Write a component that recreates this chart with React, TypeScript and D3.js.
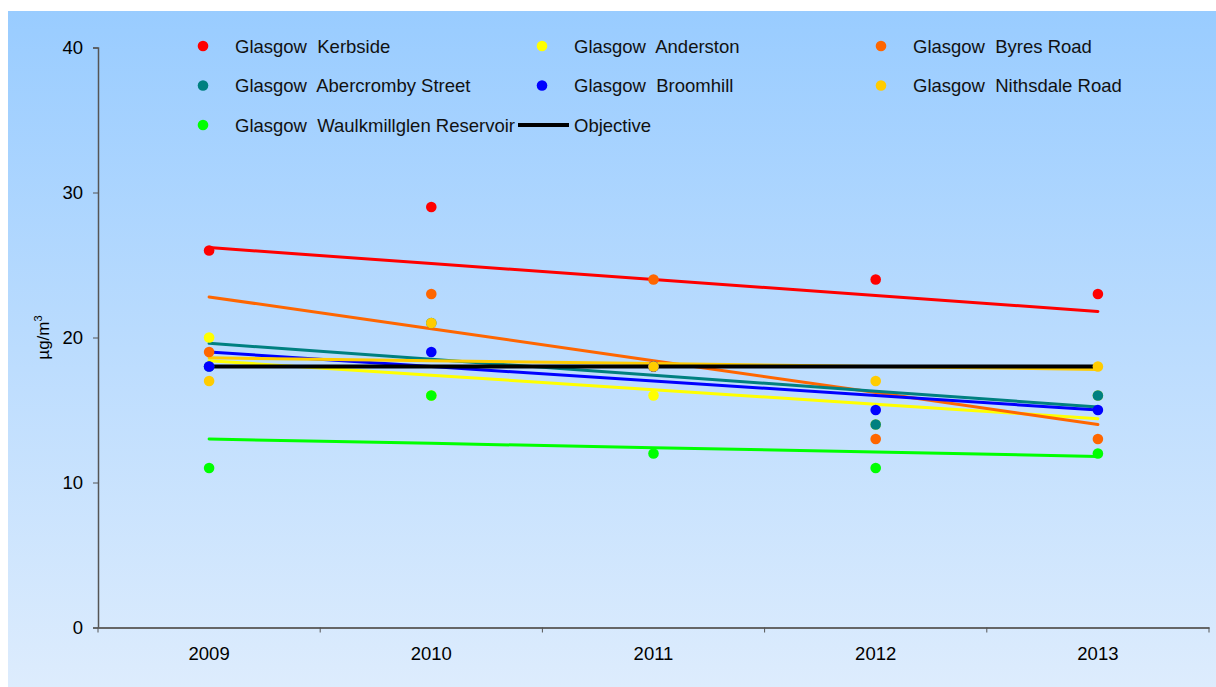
import React, { useEffect, useRef } from "react";
import * as d3 from "d3";

const years = ["2009", "2010", "2011", "2012", "2013"];

const kerbside = [26, 29, 18, 24, 23];
const anderston = [20, 16, 16, 14, 16];
const byresRoad = [19, 23, 24, 13, 13];
const abercromby = [18, 21, 18, 14, 16];
const broomhill = [18, 19, 18, 15, 15];
const nithsdale = [17, 21, 18, 17, 18];
const waulkmillglen = [11, 16, 12, 11, 12];
const objective = [18, 18, 18, 18, 18];

const yTicks = [0, 10, 20, 30, 40];

const sites = [
  { name: "Glasgow  Kerbside", color: "#ff0000", values: kerbside },
  { name: "Glasgow  Anderston", color: "#ffff00", values: anderston },
  { name: "Glasgow  Byres Road", color: "#ff6600", values: byresRoad },
  { name: "Glasgow  Abercromby Street", color: "#008080", values: abercromby },
  { name: "Glasgow  Broomhill", color: "#0000ff", values: broomhill },
  { name: "Glasgow  Nithsdale Road", color: "#ffcc00", values: nithsdale },
  { name: "Glasgow  Waulkmillglen Reservoir", color: "#00ff00", values: waulkmillglen },
];

// least squares trendline like Excel's linear trendline
const trend = (vals: number[]) => {
  const xs = vals.map((_, i) => i);
  const mx = d3.mean(xs) as number;
  const my = d3.mean(vals) as number;
  const slope =
    d3.sum(xs, (x, i) => (x - mx) * (vals[i] - my)) /
    d3.sum(xs, (x) => (x - mx) * (x - mx));
  return xs.map((x) => my + slope * (x - mx));
};

const App = () => {
  const ref = useRef<SVGSVGElement>(null);

  useEffect(() => {
    const svg = d3.select(ref.current);
    svg.selectAll("*").remove();

    const W = 1216;
    const H = 687;
    const left = 98;
    const right = 1209;
    const top = 47.5;
    const bottom = 627.5;
    const font = "Liberation Sans, Arial, sans-serif";

    const defs = svg.append("defs");
    const grad = defs
      .append("linearGradient")
      .attr("id", "bg")
      .attr("x1", 0)
      .attr("y1", 0)
      .attr("x2", 0)
      .attr("y2", 1);
    grad.append("stop").attr("offset", "0%").attr("stop-color", "#99ccff");
    grad.append("stop").attr("offset", "100%").attr("stop-color", "#ddecfd");

    svg
      .append("rect")
      .attr("x", 8)
      .attr("y", 11)
      .attr("width", W - 8)
      .attr("height", H - 11)
      .attr("fill", "url(#bg)");

    const x = d3.scaleBand().domain(years).range([left, right]);
    const y = d3.scaleLinear().domain([0, 40]).range([bottom, top]);
    const cx = (i: number) => (x(years[i]) as number) + x.bandwidth() / 2;

    // y axis
    const yAxis = svg
      .append("g")
      .attr("transform", `translate(${left},0)`)
      .call(d3.axisLeft(y).tickValues(yTicks).tickSize(5).tickPadding(10));
    yAxis.select(".domain").attr("stroke", "#555").attr("stroke-width", 1.5);
    yAxis.selectAll(".tick line").attr("stroke", "#555");
    yAxis
      .selectAll(".tick text")
      .attr("font-family", font)
      .attr("font-size", 18.5)
      .attr("fill", "#000");

    // x axis
    const xAxis = svg
      .append("g")
      .attr("transform", `translate(0,${bottom})`)
      .call(d3.axisBottom(x).tickSize(0).tickPadding(19));
    xAxis.select(".domain").attr("stroke", "#666").attr("stroke-width", 2);
    xAxis
      .selectAll(".tick text")
      .attr("font-family", font)
      .attr("font-size", 18.5)
      .attr("fill", "#000");
    svg
      .append("g")
      .selectAll("line")
      .data(d3.range(years.length + 1))
      .join("line")
      .attr("x1", (i) => left + i * x.bandwidth())
      .attr("x2", (i) => left + i * x.bandwidth())
      .attr("y1", bottom)
      .attr("y2", bottom + 5)
      .attr("stroke", "#555");

    // y label
    const yl = svg
      .append("text")
      .attr("transform", `translate(49,${(top + bottom) / 2}) rotate(-90)`)
      .attr("text-anchor", "middle")
      .attr("font-family", font)
      .attr("font-size", 17)
      .text("µg/m");
    yl.append("tspan").attr("dy", -7).attr("font-size", 11).text("3");

    // trend lines
    const line = d3
      .line<number>()
      .x((_, i) => cx(i))
      .y((d) => y(d));

    sites.forEach((s) => {
      svg
        .append("path")
        .attr("d", line(trend(s.values)))
        .attr("fill", "none")
        .attr("stroke", s.color)
        .attr("stroke-width", 3)
        .attr("stroke-linecap", "round");
    });

    svg
      .append("path")
      .attr("d", line(objective))
      .attr("fill", "none")
      .attr("stroke", "#000")
      .attr("stroke-width", 4);

    // points
    sites.forEach((s) => {
      svg
        .append("g")
        .selectAll("circle")
        .data(s.values)
        .join("circle")
        .attr("cx", (_, i) => cx(i))
        .attr("cy", (d) => y(d))
        .attr("r", 5.3)
        .attr("fill", s.color);
    });

    // legend
    const legend = svg.append("g");
    const items = [...sites.map((s) => ({ ...s, kind: "dot" })), { name: "Objective", color: "#000", kind: "line" }];
    items.forEach((it, i) => {
      const col = i % 3;
      const row = Math.floor(i / 3);
      const gx = 203 + col * 339;
      const gy = 46 + row * 39.5;
      const g = legend.append("g").attr("transform", `translate(${gx},${gy})`);
      if (it.kind === "dot") {
        g.append("circle").attr("r", 5.3).attr("fill", it.color);
      } else {
        g.append("line")
          .attr("x1", -24)
          .attr("x2", 27)
          .attr("stroke", "#000")
          .attr("stroke-width", 4);
      }
      g.append("text")
        .attr("x", 32)
        .attr("y", 6.5)
        .attr("font-family", font)
        .attr("font-size", 18.5)
        .attr("fill", "#111")
        .style("white-space", "pre")
        .text(it.name);
    });
  }, []);

  return (
    <svg
      ref={ref}
      width={1216}
      height={687}
      style={{ position: "absolute", left: 0, top: 0, display: "block" }}
    />
  );
};

export default App;
